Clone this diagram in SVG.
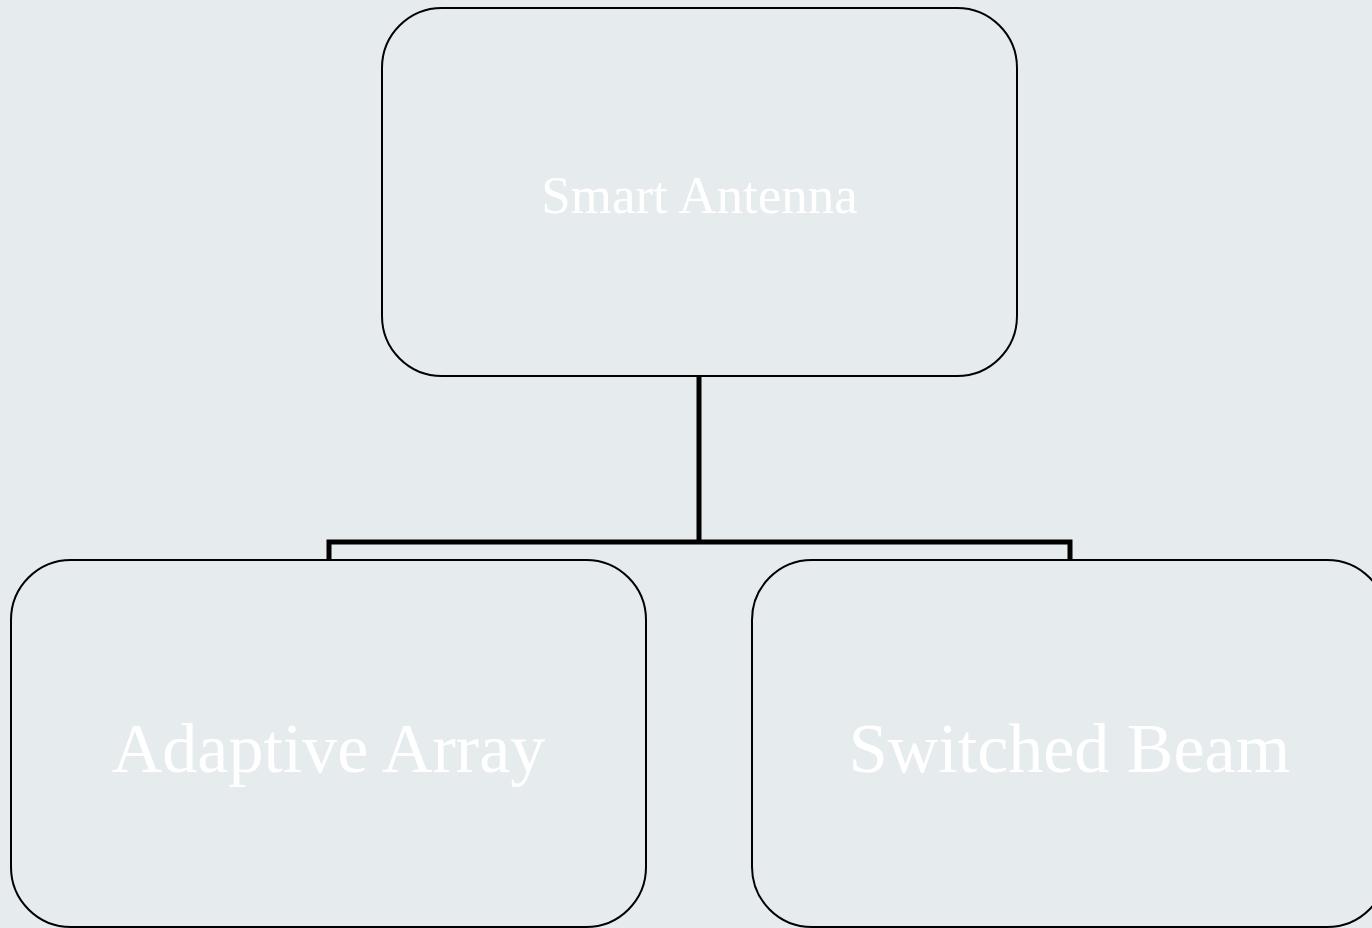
<svg xmlns="http://www.w3.org/2000/svg" width="1372" height="928" viewBox="0 0 1372 928">
  <style>
    .box { fill: #e6ebee; stroke: #000; stroke-width: 2; }
    .label { fill: #ffffff; font-family: "Liberation Serif", "Times New Roman", serif; text-anchor: middle; }
    .conn { fill: none; stroke: #000; stroke-width: 5; stroke-linejoin: miter; }
  </style>
  <rect width="1372" height="928" fill="#e6ebee"/>
  <g id="connectors">
    <path class="conn" d="M699 376 V542"/>
    <path class="conn" d="M329 560 V542 H1070 V560"/>
  </g>
  <g id="smart-antenna">
    <rect class="box" x="382" y="8" width="635" height="368" rx="60" ry="60"/>
    <text class="label" x="699.5" y="213" font-size="53">Smart Antenna</text>
  </g>
  <g id="adaptive-array">
    <rect class="box" x="11" y="560" width="635" height="367" rx="60" ry="60"/>
    <text class="label" x="328.5" y="772" font-size="70">Adaptive Array</text>
  </g>
  <g id="switched-beam">
    <rect class="box" x="752" y="560" width="635" height="367" rx="60" ry="60"/>
    <text class="label" x="1069.5" y="772" font-size="70">Switched Beam</text>
  </g>
</svg>
